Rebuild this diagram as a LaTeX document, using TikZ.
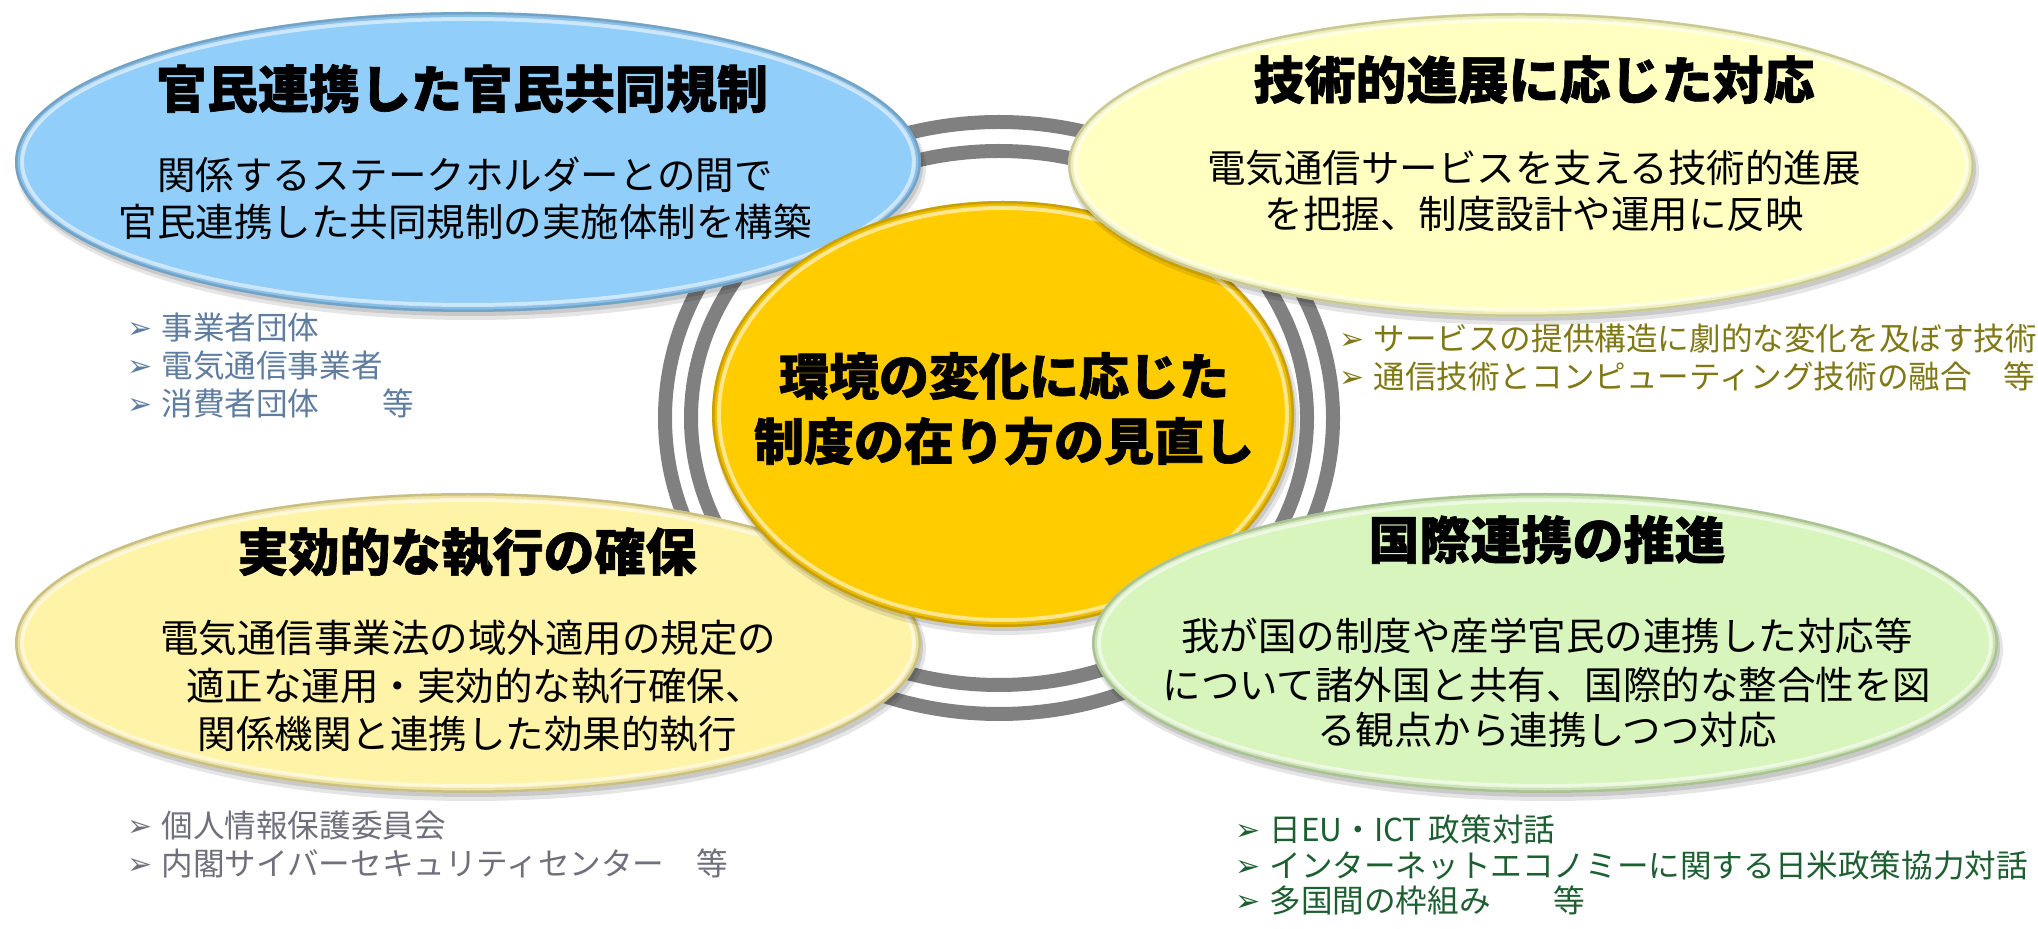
\documentclass[tikz,border=0pt]{standalone}
\usepackage{fontspec}
\newfontfamily\jp{Noto Sans CJK JP}
\newfontfamily\dv{DejaVu Sans}
\usetikzlibrary{shapes.geometric}
\definecolor{cBlue}{RGB}{146,206,250}
\definecolor{cLemon}{RGB}{255,255,194}
\definecolor{cYel}{RGB}{255,243,168}
\definecolor{cGreen}{RGB}{217,245,190}
\definecolor{cGold}{RGB}{255,204,0}
\definecolor{cRing}{RGB}{128,128,128}
\definecolor{cTL}{RGB}{95,125,160}
\definecolor{cTR}{RGB}{128,120,20}
\definecolor{cBL}{RGB}{112,112,125}
\definecolor{cBR}{RGB}{30,95,50}
\tikzset{
  ttl/.style={inner sep=0pt, text height=0.8em, text depth=0.1em,
    font={\jp\bfseries\addfontfeature{FakeBold=1.2}\fontsize{25.5pt}{30pt}\selectfont}},
  ctr/.style={inner sep=0pt, text height=0.8em, text depth=0.1em,
    font={\jp\bfseries\addfontfeature{FakeBold=1.2}\fontsize{25pt}{30pt}\selectfont}},
  bod/.style={inner sep=0pt, text height=0.8em, text depth=0.1em,
    font={\jp\fontsize{19.25pt}{23.5pt}\selectfont}},
  bul/.style={anchor=west, inner sep=0pt, text height=0.8em, text depth=0.1em,
    font={\jp\fontsize{15.8pt}{19pt}\selectfont}},
  ring/.style={draw=cRing, line width=7pt},
}
\newcommand\arr{\makebox[17pt][l]{\raisebox{0.5pt}{\dv\fontsize{15pt}{15pt}\selectfont ➢}}}
% #1 name, #2 x, #3 y, #4 colour, #5 x radius, #6 y radius
\newcommand\bubble[6]{%
  \fill[black, opacity=0.10] (#2+3,#3+6) ellipse [x radius=#5+2, y radius=#6+2];
  \fill[black, opacity=0.12] (#2+2,#3+4) ellipse [x radius=#5, y radius=#6];
  \node[ellipse, minimum width=#5pt, minimum height=#6pt, inner sep=0pt, fill=#4] (#1) at (#2,#3) {};
  \begin{scope}
    \clip (#2,#3) ellipse [x radius=#5, y radius=#6];
    \draw[line width=6pt, #4!80!black, opacity=0.35] (#2,#3) ellipse [x radius=#5, y radius=#6];
    \draw[line width=2.5pt, #4!65!black, opacity=0.5] (#2,#3) ellipse [x radius=#5, y radius=#6];
    \draw[line width=2pt, white, opacity=0.55] (#2,#3) ellipse [x radius=#5-7, y radius=#6-7];
  \end{scope}
}
\begin{document}
\begin{tikzpicture}[x=0.5pt, y=-0.5pt]
\useasboundingbox (0,0) rectangle (2038,929);
\fill[white] (0,0) rectangle (2038,929);
% rings
\draw[ring] (999,418) ellipse [x radius=334, y radius=296];
\draw[ring] (999,418) ellipse [x radius=308, y radius=267];
% bubbles
\bubble{tl}{468}{162}{cBlue}{453}{150}
\bubble{bl}{468}{643}{cYel}{453}{150}
\bubble{gold}{1003}{414}{cGold}{291}{213}
\bubble{tr}{1521}{165}{cLemon}{453}{152}
\bubble{br}{1545}{643}{cGreen}{453}{150}
% top-left
\node[ttl] (tlt) at (462,101) {官民連携した官民共同規制};
\node[bod] (tlb1) at (465,183) {関係するステークホルダーとの間で};
\node[bod] (tlb2) at (465,230) {官民連携した共同規制の実施体制を構築};
% top-right
\node[ttl] (trt) at (1534,92) {技術的進展に応じた対応};
\node[bod] (trb1) at (1534,176) {電気通信サービスを支える技術的進展};
\node[bod] (trb2) at (1534,222) {を把握、制度設計や運用に反映};
% centre
\node[ctr] (g1) at (1004,388) {環境の変化に応じた};
\node[ctr] (g2) at (1004,453) {制度の在り方の見直し};
% bottom-left
\node[ttl] (blt) at (467,564) {実効的な執行の確保};
\node[bod] (blb1) at (468,646) {電気通信事業法の域外適用の規定の};
\node[bod] (blb2) at (475,693) {適正な運用・実効的な執行確保、};
\node[bod] (blb3) at (467,741) {関係機関と連携した効果的執行};
% bottom-right
\node[ttl] (brt) at (1547,552) {国際連携の推進};
\node[bod] (brb1) at (1547,643) {我が国の制度や産学官民の連携した対応等};
\node[bod] (brb2) at (1547,692) {について諸外国と共有、国際的な整合性を図};
\node[bod] (brb3) at (1547,737) {る観点から連携しつつ対応};
% bullet lists
\node[bul, text=cTL] (l1) at (127,333) {\arr 事業者団体};
\node[bul, text=cTL] (l2) at (127,371) {\arr 電気通信事業者};
\node[bul, text=cTL] (l3) at (127,409) {\arr 消費者団体　　等};
\node[bul, text=cTR] (r1) at (1339,344) {\arr サービスの提供構造に劇的な変化を及ぼす技術};
\node[bul, text=cTR] (r2) at (1339,382) {\arr 通信技術とコンピューティング技術の融合　等};
\node[bul, text=cBL] (m1) at (127,830) {\arr 個人情報保護委員会};
\node[bul, text=cBL] (m2) at (127,868) {\arr 内閣サイバーセキュリティセンター　等};
\node[bul, text=cBR] (n1) at (1235,834) {\arr 日EU・ICT 政策対話};
\node[bul, text=cBR] (n2) at (1235,870) {\arr インターネットエコノミーに関する日米政策協力対話};
\node[bul, text=cBR] (n3) at (1235,905) {\arr 多国間の枠組み　　等};
\end{tikzpicture}
\end{document}
